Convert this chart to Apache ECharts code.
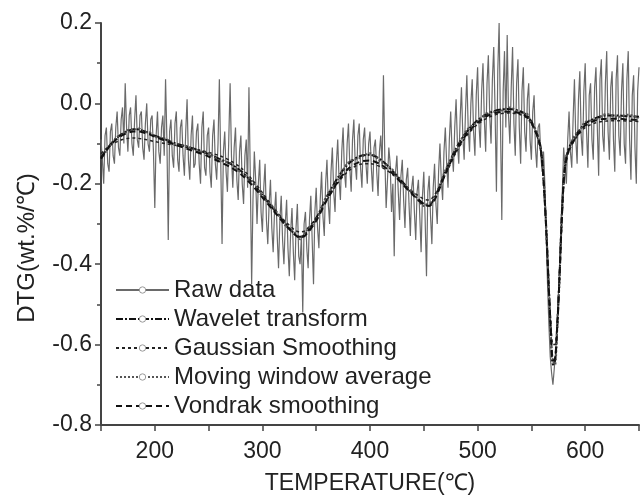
<!DOCTYPE html>
<html>
<head>
<meta charset="utf-8">
<script src="https://cdn.jsdelivr.net/npm/echarts@6/dist/echarts.min.js"></script>
<style>
  html, body { margin: 0; padding: 0; background: #fff; }
  #chart { width: 642px; height: 503px; }
</style>
</head>
<body>
<div id="chart"></div>
<script>
// raw DTG signal, sampled every 1.25 ℃ starting at 150 ℃
var rawStart = 150;
var rawStep = 1.25;
var rawDtg = [
  -0.09, -0.14, -0.20, -0.08, -0.06, -0.15, -0.17, -0.07, -0.05, -0.13,
  -0.15, -0.06, -0.02, -0.11, -0.13, -0.04, -0.01, -0.10, 0.05, -0.06,
  -0.12, -0.03, -0.01, -0.10, -0.13, -0.04, 0.02, -0.09, -0.11, -0.03,
  -0.02, -0.11, -0.14, -0.05, 0.00, -0.10, -0.12, -0.04, -0.03, -0.12,
  -0.26, -0.08, -0.02, -0.12, -0.15, -0.06, -0.03, -0.13, 0.06, -0.09,
  -0.34, -0.07, -0.04, -0.13, -0.16, -0.05, -0.02, -0.14, -0.17, -0.06,
  -0.04, -0.13, -0.18, -0.07, 0.01, -0.14, -0.19, -0.08, -0.03, -0.16,
  -0.15, -0.07, -0.05, -0.15, -0.20, -0.06, -0.02, -0.16, -0.18, -0.08,
  -0.06, -0.17, -0.21, -0.08, -0.04, -0.15, -0.19, -0.10, 0.06, -0.14,
  -0.35, -0.12, -0.07, -0.17, -0.22, -0.09, 0.05, -0.13, -0.21, -0.11,
  -0.06, -0.19, -0.24, -0.12, -0.08, -0.20, -0.25, -0.13, -0.09, -0.21,
  0.04, -0.18, -0.45, -0.24, -0.12, -0.19, -0.30, -0.20, -0.14, -0.27,
  -0.32, -0.21, -0.15, -0.29, -0.35, -0.25, -0.19, -0.31, -0.37, -0.27,
  -0.22, -0.33, -0.41, -0.29, -0.23, -0.34, -0.40, -0.30, -0.24, -0.36,
  -0.43, -0.32, -0.26, -0.37, -0.44, -0.31, -0.25, -0.38, -0.40, -0.33,
  -0.52, -0.30, -0.27, -0.36, -0.41, -0.29, -0.23, -0.34, -0.45, -0.27,
  -0.21, -0.31, -0.36, -0.24, -0.17, -0.28, -0.33, -0.20, -0.14, -0.25,
  -0.30, -0.17, -0.11, -0.22, -0.27, -0.15, -0.09, -0.19, -0.24, -0.12,
  -0.06, -0.17, -0.21, -0.10, -0.05, -0.16, -0.22, -0.09, -0.04, -0.15,
  -0.19, -0.08, -0.05, -0.16, -0.21, -0.09, -0.06, -0.15, -0.20, -0.10,
  -0.07, -0.16, -0.22, -0.11, -0.09, -0.17, -0.23, -0.12, -0.08, -0.16,
  0.07, -0.13, -0.26, -0.19, -0.11, -0.15, -0.27, -0.20, -0.38, -0.17,
  -0.13, -0.22, -0.29, -0.18, -0.14, -0.24, -0.31, -0.19, -0.16, -0.25,
  -0.33, -0.21, -0.18, -0.27, -0.34, -0.22, -0.19, -0.28, -0.37, -0.23,
  -0.17, -0.29, -0.43, -0.22, -0.18, -0.28, -0.35, -0.21, -0.15, -0.25,
  -0.30, -0.17, -0.10, -0.19, -0.24, -0.12, -0.06, -0.15, -0.21, -0.09,
  -0.02, -0.12, -0.17, -0.06, 0.01, -0.10, -0.15, -0.04, 0.04, -0.08,
  -0.14, -0.02, 0.07, -0.06, -0.12, 0.00, 0.06, -0.07, -0.13, 0.02,
  0.09, -0.05, -0.11, 0.03, 0.10, -0.04, -0.12, 0.05, 0.12, -0.03,
  -0.10, 0.06, 0.14, -0.02, -0.22, 0.08, 0.20, -0.05, -0.29, 0.03,
  0.13, -0.06, 0.17, -0.03, -0.10, 0.04, 0.14, -0.05, -0.13, 0.05,
  0.11, -0.06, -0.15, 0.03, 0.09, -0.07, -0.12, 0.01, 0.05, -0.09,
  -0.14, -0.02, 0.02, -0.11, -0.16, -0.06, -0.05, -0.13, -0.17, -0.12,
  -0.20, -0.33, -0.45, -0.55, -0.63, -0.67, -0.70, -0.66, -0.62, -0.56,
  -0.48, -0.40, -0.30, -0.22, -0.11, -0.16, -0.20, -0.09, -0.02, -0.12,
  -0.16, -0.04, 0.06, -0.09, -0.15, 0.01, 0.08, -0.08, -0.13, 0.03,
  0.10, -0.07, -0.16, 0.02, 0.05, -0.09, -0.14, 0.04, 0.09, -0.06,
  -0.18, 0.06, 0.11, -0.08, -0.12, 0.05, 0.13, -0.07, -0.14, 0.04,
  0.08, -0.09, -0.17, 0.06, 0.12, -0.08, -0.13, 0.03, 0.10, -0.10,
  -0.15, 0.06, 0.13, -0.09, -0.19, 0.02, 0.07, -0.11, -0.20, 0.03,
  0.09
];

// temperatures of the smoothed curves
var smoothTemp = [
  150, 155, 160, 165, 170, 175, 180, 185, 190, 195,
  200, 210, 220, 230, 240, 250, 260, 270, 280, 290,
  300, 310, 320, 330, 335, 340, 350, 360, 370, 380,
  390, 400, 410, 420, 430, 440, 450, 455, 460, 470,
  480, 490, 500, 510, 520, 530, 540, 545, 550, 555,
  558, 560, 562, 564, 566, 568, 570, 572, 574, 576,
  578, 580, 582, 585, 590, 595, 600, 610, 620, 630,
  640, 650
];
var waveletDtg = [
  -0.135, -0.115, -0.098, -0.085, -0.075, -0.068, -0.064, -0.065, -0.069, -0.074,
  -0.080, -0.090, -0.100, -0.108, -0.116, -0.126, -0.138, -0.150, -0.168, -0.195,
  -0.228, -0.262, -0.295, -0.325, -0.332, -0.325, -0.285, -0.232, -0.185, -0.150,
  -0.132, -0.128, -0.140, -0.165, -0.195, -0.225, -0.250, -0.252, -0.235, -0.170,
  -0.112, -0.070, -0.042, -0.025, -0.016, -0.014, -0.020, -0.028, -0.045, -0.075,
  -0.100, -0.140, -0.220, -0.320, -0.450, -0.570, -0.650, -0.640, -0.560, -0.440,
  -0.300, -0.190, -0.140, -0.110, -0.085, -0.065, -0.050, -0.036, -0.030, -0.030,
  -0.032, -0.033
];
var gaussianDtg = [
  -0.125, -0.112, -0.102, -0.095, -0.090, -0.087, -0.086, -0.087, -0.089, -0.092,
  -0.095, -0.100, -0.105, -0.110, -0.115, -0.122, -0.130, -0.142, -0.160, -0.188,
  -0.222, -0.258, -0.290, -0.315, -0.320, -0.316, -0.285, -0.240, -0.198, -0.168,
  -0.152, -0.150, -0.158, -0.175, -0.198, -0.220, -0.238, -0.240, -0.228, -0.178,
  -0.122, -0.080, -0.052, -0.035, -0.026, -0.024, -0.028, -0.035, -0.050, -0.080,
  -0.110, -0.150, -0.230, -0.330, -0.440, -0.540, -0.600, -0.600, -0.540, -0.430,
  -0.310, -0.200, -0.150, -0.118, -0.092, -0.074, -0.060, -0.048, -0.044, -0.043,
  -0.044, -0.045
];
var movingDtg = [
  -0.140, -0.118, -0.100, -0.083, -0.078, -0.066, -0.066, -0.062, -0.072, -0.072,
  -0.083, -0.088, -0.104, -0.106, -0.120, -0.124, -0.142, -0.148, -0.172, -0.192,
  -0.232, -0.258, -0.300, -0.322, -0.338, -0.320, -0.290, -0.228, -0.190, -0.146,
  -0.136, -0.124, -0.145, -0.162, -0.200, -0.222, -0.255, -0.248, -0.240, -0.166,
  -0.116, -0.066, -0.046, -0.022, -0.020, -0.010, -0.024, -0.024, -0.050, -0.070,
  -0.105, -0.135, -0.210, -0.330, -0.440, -0.580, -0.640, -0.650, -0.550, -0.450,
  -0.290, -0.200, -0.135, -0.115, -0.080, -0.068, -0.046, -0.040, -0.026, -0.034,
  -0.028, -0.036
];
var vondrakDtg = [
  -0.138, -0.117, -0.100, -0.088, -0.079, -0.073, -0.070, -0.070, -0.073, -0.077,
  -0.083, -0.093, -0.104, -0.113, -0.122, -0.132, -0.145, -0.158, -0.176, -0.202,
  -0.234, -0.266, -0.298, -0.326, -0.334, -0.328, -0.292, -0.240, -0.195, -0.162,
  -0.146, -0.142, -0.152, -0.172, -0.200, -0.228, -0.252, -0.255, -0.240, -0.176,
  -0.118, -0.076, -0.048, -0.030, -0.022, -0.020, -0.025, -0.032, -0.048, -0.078,
  -0.104, -0.145, -0.225, -0.325, -0.450, -0.560, -0.640, -0.635, -0.555, -0.440,
  -0.305, -0.195, -0.145, -0.115, -0.090, -0.070, -0.055, -0.042, -0.038, -0.038,
  -0.040, -0.041
];

var seriesNames = ["Raw data", "Wavelet transform", "Gaussian Smoothing", "Moving window average", "Vondrak smoothing"];
var xLabelValues = [200, 300, 400, 500, 600];

(function () {
  var myChart = echarts.init(document.querySelector("#chart"));
  var font = "Liberation Sans, Arial, sans-serif";

  function pairs(xs, ys) {
    return ys.map(function (v, i) {
      return [xs[i], v];
    });
  }
  var rawData = rawDtg.map(function (v, i) {
    return [rawStart + i * rawStep, v];
  });

  var option = {
    animation: false,
    textStyle: { fontFamily: font },
    grid: {
      left: 101,
      right: 2,
      top: 23,
      bottom: 78,
    },
    legend: {
      orient: "vertical",
      left: 110,
      top: 273,
      itemWidth: 53,
      itemHeight: 8,
      itemGap: 5,
      data: seriesNames,
      itemStyle: { color: "#fff", borderColor: "#999", borderWidth: 1 },
      textStyle: { fontSize: 24, color: "#222", fontFamily: font },
    },
    xAxis: {
      type: "value",
      min: 150,
      max: 650,
      interval: 50,
      name: "TEMPERATURE(℃)",
      nameLocation: "middle",
      nameGap: 47,
      nameTextStyle: { fontSize: 23, color: "#222", fontFamily: font },
      axisLine: { onZero: false, lineStyle: { color: "#444", width: 2 } },
      axisTick: { length: 6, lineStyle: { color: "#444", width: 1.5 } },
      axisLabel: {
        fontSize: 23,
        color: "#222",
        margin: 15,
        //只显示整百的刻度标签
        formatter: function (v) {
          return xLabelValues.indexOf(v) >= 0 ? String(v) : "";
        },
      },
      splitLine: { show: false },
    },
    yAxis: {
      type: "value",
      min: -0.8,
      max: 0.2,
      interval: 0.2,
      name: "DTG(wt.%/℃)",
      nameLocation: "middle",
      nameGap: 62,
      //往下挪一点，和原图一致
      nameTextStyle: { fontSize: 24, color: "#222", fontFamily: font, padding: [0, 48, 0, 0] },
      axisLine: { show: true, onZero: false, lineStyle: { color: "#444", width: 2 } },
      axisTick: { show: true, length: 6, lineStyle: { color: "#444", width: 1.5 } },
      minorTick: { show: true, splitNumber: 2, length: 4, lineStyle: { color: "#444", width: 1.5 } },
      axisLabel: {
        fontSize: 23,
        color: "#222",
        margin: 9,
        formatter: function (v) {
          return Math.abs(v) < 1e-9 ? "0.0" : v.toFixed(1);
        },
      },
      splitLine: { show: false },
    },
    series: [
      {
        name: seriesNames[0],
        type: "line",
        data: rawData,
        symbol: "none",
        lineStyle: { color: "#6a6a6a", width: 1.2 },
        itemStyle: { color: "#6a6a6a" },
        z: 1,
      },
      {
        name: seriesNames[1],
        type: "line",
        data: pairs(smoothTemp, waveletDtg),
        symbol: "none",
        smooth: 0.3,
        lineStyle: { color: "#111", width: 2, type: [7, 2, 2, 2] },
        itemStyle: { color: "#111" },
        z: 3,
      },
      {
        name: seriesNames[2],
        type: "line",
        data: pairs(smoothTemp, gaussianDtg),
        symbol: "none",
        smooth: 0.3,
        lineStyle: { color: "#222", width: 1.5, type: [3, 3] },
        itemStyle: { color: "#222" },
        z: 3,
      },
      {
        name: seriesNames[3],
        type: "line",
        data: pairs(smoothTemp, movingDtg),
        symbol: "none",
        smooth: 0.3,
        lineStyle: { color: "#555", width: 2, type: [2, 2] },
        itemStyle: { color: "#555" },
        z: 3,
      },
      {
        name: seriesNames[4],
        type: "line",
        data: pairs(smoothTemp, vondrakDtg),
        symbol: "none",
        smooth: 0.3,
        lineStyle: { color: "#111", width: 2, type: [6, 4] },
        itemStyle: { color: "#111" },
        z: 3,
      },
    ],
  };
  myChart.setOption(option);
})();
</script>
</body>
</html>
